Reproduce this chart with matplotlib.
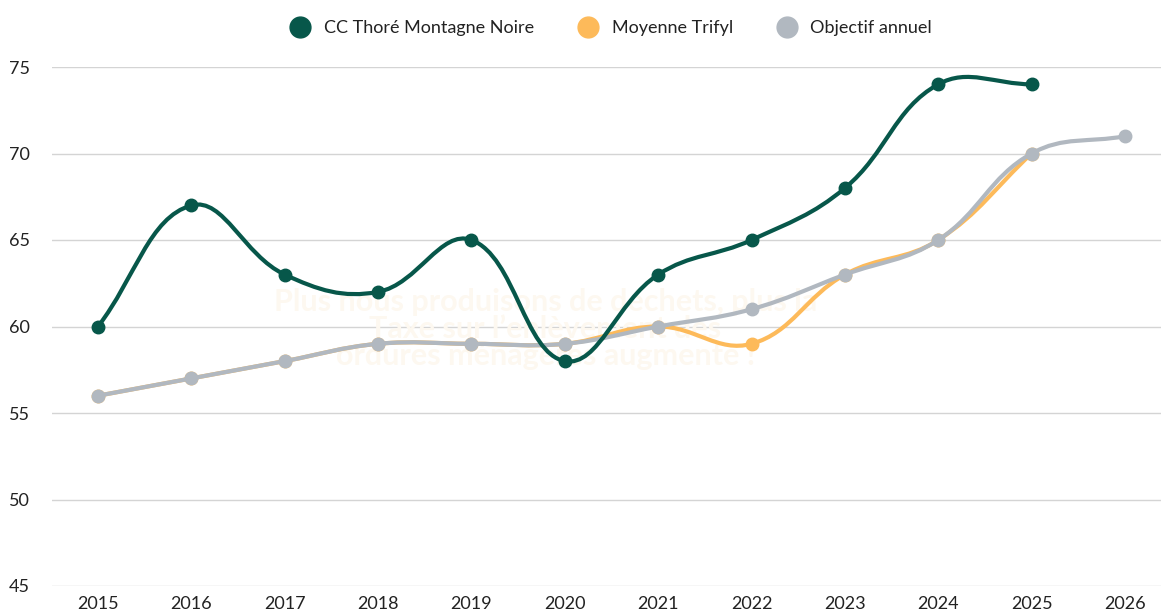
import numpy as np
import matplotlib
matplotlib.use("Agg")
import matplotlib.pyplot as plt
from matplotlib.path import Path
from matplotlib.patches import PathPatch
from matplotlib.lines import Line2D

years = [2015, 2016, 2017, 2018, 2019, 2020, 2021, 2022, 2023, 2024, 2025, 2026]
cc_thore = [60, 67, 63, 62, 65, 58, 63, 65, 68, 74, 74]
moyenne_trifyl = [56, 57, 58, 59, 59, 59, 60, 59, 63, 65, 70]
objectif = [56, 57, 58, 59, 59, 59, 60, 61, 63, 65, 70, 71]
labels = ["CC Thoré Montagne Noire", "Moyenne Trifyl", "Objectif annuel"]
colors = ["#07574a", "#fdba5a", "#b1b8c0"]
watermark = "Plus nous produisons de déchets, plus la\nTaxe sur l\u2019enlèvement des\nordures ménagères augmente !"

plt.rcParams['font.family'] = ['Lato', 'DejaVu Sans']

fig = plt.figure(figsize=(11.61, 6.12), dpi=100)
ax = fig.add_axes([52 / 1161, 1 - 586 / 612, 1 - 52 / 1161, (586 - 67) / 612])
ax.set_xlim(2014.507, 2026.386)
ax.set_ylim(45, 75)


def spline_path(xs, ys, tension=0.4):
    # chart.js style spline, computed in pixel space
    pts = ax.transData.transform(np.column_stack([xs, ys]))
    n = len(pts)
    verts = [pts[0]]
    codes = [Path.MOVETO]
    cps = []
    for i in range(n):
        prev = pts[i - 1] if i > 0 else pts[i]
        nxt = pts[i + 1] if i < n - 1 else pts[i]
        cur = pts[i]
        d01 = np.hypot(*(cur - prev))
        d12 = np.hypot(*(nxt - cur))
        tot = d01 + d12
        s01 = d01 / tot if tot else 0
        s12 = d12 / tot if tot else 0
        cps.append((cur - tension * s01 * (nxt - prev),
                    cur + tension * s12 * (nxt - prev)))
    for i in range(1, n):
        verts += [cps[i - 1][1], cps[i][0], pts[i]]
        codes += [Path.CURVE4] * 3
    inv = ax.transData.inverted()
    return Path(inv.transform(np.array(verts)), codes)


for i in range(7):
    ax.axhline(45 + 5 * i, color="#d4d4d4", lw=1, zorder=0)

ax.text(2019.79, 59.86, watermark, ha="center", va="center", fontsize=22,
        fontweight="bold", color="#fdf8f0", linespacing=0.95, zorder=0.5)

all_series = [cc_thore, moyenne_trifyl, objectif]
for idx, z in [(1, 2), (2, 3), (0, 4)]:
    vals = all_series[idx]
    c = colors[idx]
    xs = years[:len(vals)]
    p = spline_path(xs, vals)
    ax.add_patch(PathPatch(p, fill=False, edgecolor=c, lw=3, zorder=z,
                           capstyle="round", joinstyle="round"))
    ax.plot(xs, vals, "o", ms=9, color=c, zorder=z + 0.1, clip_on=False)

for s in ax.spines.values():
    s.set_visible(False)
ax.set_xticks(years)
ax.set_xticklabels([str(y) for y in years])
ax.set_yticks(range(45, 80, 5))
ax.tick_params(length=0, labelsize=13, colors="#222222")
ax.tick_params(axis="y", pad=16)
ax.tick_params(axis="x", pad=7)

handles = [Line2D([], [], marker="o", ls="", ms=15, color=c) for c in colors]
fig.legend(handles, labels, loc="center", bbox_to_anchor=(0.523, 1 - 28 / 612),
           ncol=3, frameon=False, fontsize=13, handletextpad=0.3,
           columnspacing=2.0, labelcolor="#222222")

fig.savefig("out.png", dpi=100)
